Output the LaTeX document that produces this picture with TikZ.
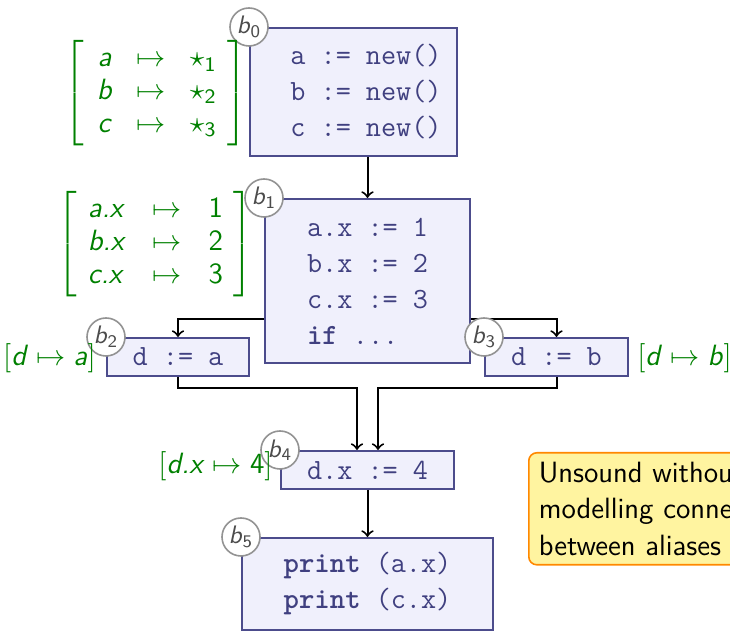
\documentclass[tikz,border=0pt]{standalone}
\usepackage{amsmath}
\usetikzlibrary{calc}
\definecolor{boxfill}{RGB}{240,240,252}
\definecolor{boxline}{RGB}{76,76,140}
\definecolor{codecol}{RGB}{64,64,128}
\definecolor{annot}{RGB}{0,128,0}
\definecolor{notefill}{RGB}{255,244,160}
\definecolor{noteline}{RGB}{255,136,0}
\newcommand\vv[1]{\textsf{\textit{#1}}}
\newcommand\codefont{\fontsize{11}{13.5}\selectfont\ttfamily}
\begin{document}
\begin{tikzpicture}[x=0.375pt,y=-0.375pt,
  blk/.style={draw=boxline, fill=boxfill, line width=0.75pt, inner sep=0pt, text=codecol, font=\codefont, align=left},
  sz/.style 2 args={minimum width=#1*0.375pt, minimum height=#2*0.375pt},
  circ/.style={circle, draw=gray!85, fill=white, line width=0.6pt, minimum size=14.25pt, inner sep=0pt, text=black!70, font=\fontsize{9.5}{11}\selectfont},
  ann/.style={text=annot, inner sep=0pt, font=\fontsize{11}{12.2}\selectfont},
  arr/.style={->, line width=0.75pt, black},
  note/.style={draw=noteline, fill=notefill, line width=0.6pt, rounded corners=3pt, inner xsep=3.75pt, inner ysep=0pt, align=left, text width=100pt, font=\fontsize{11}{13.7}\selectfont\sffamily}
]
\clip (0,0) rectangle (730,632);

% blocks
\node[blk, sz={207}{128}] (b0) at (353.5,92) {};
\node[text=codecol, font=\codefont, align=left, inner sep=0pt] (b0text) at (366,92) {a := new()\\b := new()\\c := new()};
\node[blk, sz={205}{164}] (b1) at (367.5,281) {a.x := 1\\b.x := 2\\c.x := 3\\\textbf{if} ...};
\node[blk, sz={142}{38}] (b2) at (178,357) {d := a};
\node[blk, sz={143}{38}] (b3) at (556.5,357) {d := b};
\node[blk, sz={173}{38}] (b4) at (367.5,470) {d.x := 4};
\node[blk, sz={251}{92}] (b5) at (367.5,584) {\textbf{print} (a.x)\\\textbf{print} (c.x)};

% connectors
\draw[arr] (b1.north |- b0.south) -- (b1.north);
\draw[arr] ($(b1.west)+(0,38)$) -| (b2.north);
\draw[arr] ($(b1.east)+(0,38)$) -| (b3.north);
\draw[arr] (b2.south) -- ++(0,11) -| ($(b4.north)+(-10.5,0)$);
\draw[arr] (b3.south) -- ++(0,11) -| ($(b4.north)+(10.5,0)$);
\draw[arr] (b4.south) -- (b4.south |- b5.north);

% block labels
\node[circ] (c0) at (b0.north west) {\vv{b}$_{\textsf{0}}$};
\node[circ] (c1) at (b1.north west) {\vv{b}$_{\textsf{1}}$};
\node[circ] (c2) at (b2.north west) {\vv{b}$_{\textsf{2}}$};
\node[circ] (c3) at (b3.north west) {\vv{b}$_{\textsf{3}}$};
\node[circ] (c4) at (b4.north west) {\vv{b}$_{\textsf{4}}$};
\node[circ] (c5) at (b5.north west) {\vv{b}$_{\textsf{5}}$};

% annotations
\node[ann] (m0) at (155.5,93) {$\left[\begin{array}{@{\hspace{5pt}}c@{\hspace{9pt}}c@{\hspace{9pt}}l@{\hspace{4pt}}}
  \vv{a} & \mapsto & \star_{\textsf{1}}\\
  \vv{b} & \mapsto & \star_{\textsf{2}}\\
  \vv{c} & \mapsto & \star_{\textsf{3}}
\end{array}\right]$};
\node[ann] (m1) at (155.5,244) {$\left[\begin{array}{@{\hspace{4pt}}l@{\hspace{10pt}}c@{\hspace{10pt}}l@{\hspace{4pt}}}
  \vv{a.x} & \mapsto & \textsf{1}\\
  \vv{b.x} & \mapsto & \textsf{2}\\
  \vv{c.x} & \mapsto & \textsf{3}
\end{array}\right]$};
\node[ann] (l2) at (49.5,358) {$[\vv{d}\mapsto\vv{a}]$};
\node[ann] (l3) at (684.5,358) {$[\vv{d}\mapsto\vv{b}]$};
\node[ann] (l4) at (215.5,466) {$[\vv{d.x}\mapsto\textsf{4}]$};

% note
\node[note, anchor=north west, minimum height=112*0.375pt] (n) at (528,452) {Unsound without\\modelling connection\\between aliases};
\end{tikzpicture}
\end{document}
